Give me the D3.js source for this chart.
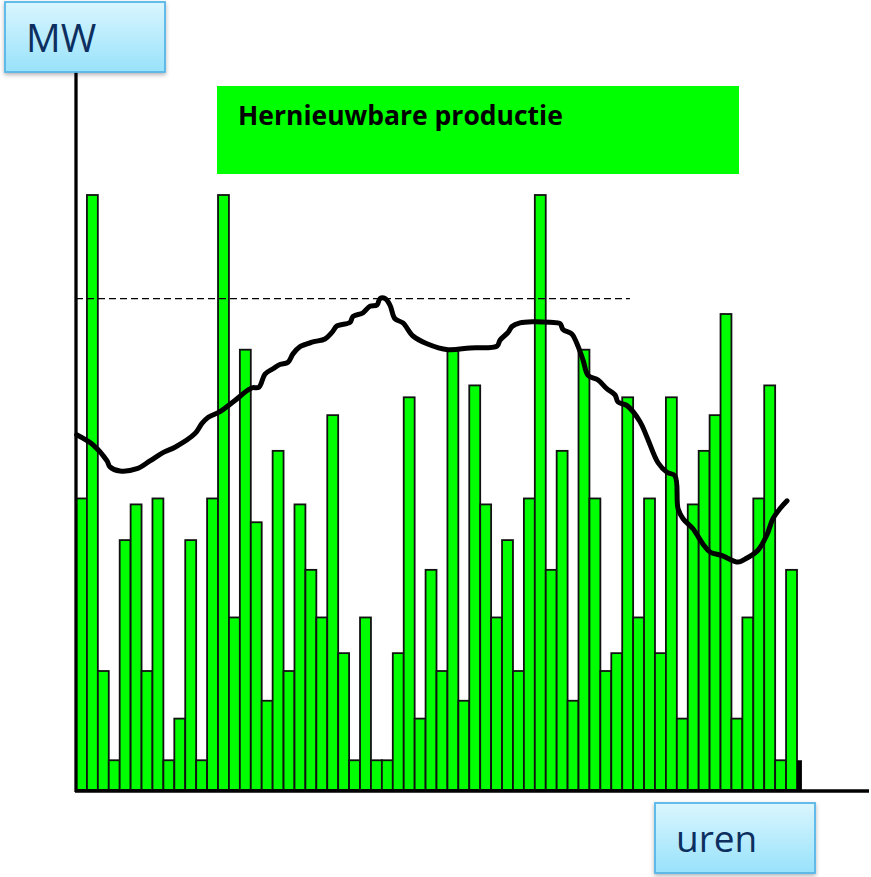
<!DOCTYPE html>
<html>
<head>
<meta charset="utf-8">
<script src="https://cdn.jsdelivr.net/npm/d3@7/dist/d3.min.js"></script>
<style>
  html, body { margin: 0; padding: 0; background: #ffffff; }
  svg { display: block; }
</style>
</head>
<body>
<svg id="chart" width="871" height="877"></svg>
<script>
// Hourly renewable production (MW), one bar per hour
const hours = d3.range(66);
const production = [
  49, 100, 20, 5, 42, 48, 20, 49, 5, 12, 42, 5, 49, 100, 29, 74, 45, 15, 57, 20,
  48, 37, 29, 63, 23, 5, 29, 5, 5, 23, 66, 12, 37, 20, 74, 15, 68, 48, 29, 42,
  20, 49, 100, 37, 57, 15, 74, 49, 20, 23, 66, 29, 49, 23, 66, 12, 48, 57, 63, 80,
  12, 29, 49, 68, 5, 37
];
// Partial bar at the end of the series
const tailValue = [5];

// Demand curve: position in hours and MW
const demandHours = [
  0.06, 1.56, 2.84, 3.11, 4.03, 5.58, 6.77, 7.96, 9.06, 10.89, 11.53, 12.08, 13.18,
  14.37, 15.65, 16.11, 16.75, 17.30, 18.03, 18.67, 19.41, 19.86, 20.51, 21.70, 22.79,
  23.43, 23.89, 25.08, 25.36, 26.27, 26.91, 27.55, 27.83, 28.29, 28.74, 29.20, 29.93,
  30.85, 32.13, 34.05, 36.07, 38.54, 38.81, 39.55, 39.91, 40.64, 41.83, 43.39, 44.31,
  44.58, 45.41, 45.86, 46.41, 46.87, 47.79, 48.61, 49.34, 49.62, 50.44, 51.63, 52.27,
  53.28, 54.10, 54.83, 55.11, 55.57, 56.48, 57.40, 58.04, 59.14, 60.60, 61.24, 62.43,
  63.25, 63.80, 64.45, 65.09
];
const demandMW = [
  59.7, 58.0, 55.3, 54.3, 53.6, 54.0, 55.3, 56.7, 57.6, 59.9, 61.6, 62.6, 63.6,
  65.2, 67.1, 67.6, 67.7, 69.9, 70.8, 71.5, 71.9, 73.3, 74.5, 75.3, 75.8,
  76.9, 78.0, 78.6, 79.6, 80.2, 81.3, 81.5, 82.6, 82.6, 81.5, 79.2, 78.5,
  76.3, 75.0, 74.0, 74.3, 74.6, 75.6, 76.9, 77.9, 78.5, 78.7, 78.6, 78.4,
  77.4, 76.6, 75.0, 72.3, 69.7, 68.9, 67.4, 66.4, 65.2, 64.6, 61.9, 59.3,
  55.0, 53.4, 52.8, 47.3, 45.6, 43.9, 41.3, 40.0, 39.4, 38.3, 38.8, 40.3,
  42.9, 45.6, 47.3, 48.6
];
// Peak level reference (dashed), spanning hours 0 to ~50.7
const peakLevel = [82.6];
const peakSpan = [0, 50.7];

const title = "Hernieuwbare productie";
const yLabel = "MW";
const xLabel = "uren";

const svg = d3.select("#chart");

const x0 = 76, x1 = 797, yBase = 790, yTop = 76;

const x = d3.scaleBand().domain(hours).range([x0, x1]).padding(0);
const xLin = d3.scaleLinear().domain([0, hours.length]).range([x0, x1]);
const y = d3.scaleLinear().domain([0, 120]).range([yBase, yTop]);

const defs = svg.append("defs");
const grad = defs.append("linearGradient")
  .attr("id", "boxGrad").attr("x1", 0).attr("y1", 0).attr("x2", 0).attr("y2", 1);
grad.append("stop").attr("offset", "0%").attr("stop-color", "#daf6fe");
grad.append("stop").attr("offset", "100%").attr("stop-color", "#98e2fb");
const shadow = defs.append("filter").attr("id", "boxShadow")
  .attr("x", "-20%").attr("y", "-20%").attr("width", "140%").attr("height", "150%");
shadow.append("feDropShadow").attr("dx", 0).attr("dy", 2).attr("stdDeviation", 2)
  .attr("flood-color", "#000").attr("flood-opacity", 0.3);

// Title banner
svg.append("rect")
  .attr("x", 217).attr("y", 86).attr("width", 522).attr("height", 88)
  .attr("fill", "#00ff00");
svg.append("text")
  .attr("x", 238).attr("y", 125)
  .attr("font-family", "'Open Sans', sans-serif")
  .attr("font-weight", 700).attr("font-size", 26.5)
  .attr("fill", "#000")
  .text(title);

// Bars
svg.append("g").selectAll("rect")
  .data(hours)
  .join("rect")
  .attr("x", d => x(d))
  .attr("y", d => y(production[d]))
  .attr("width", x.bandwidth())
  .attr("height", d => y(0) - y(production[d]))
  .attr("fill", "#00ff00")
  .attr("stroke", "#111")
  .attr("stroke-width", 1.8);

// End fragment
svg.append("rect")
  .attr("x", x1)
  .attr("y", y(tailValue[0]))
  .attr("width", x.bandwidth() * 0.45)
  .attr("height", y(0) - y(tailValue[0]))
  .attr("fill", "#000");

// Dashed peak reference
svg.append("line")
  .attr("x1", xLin(peakSpan[0])).attr("x2", xLin(peakSpan[1]))
  .attr("y1", y(peakLevel[0])).attr("y2", y(peakLevel[0]))
  .attr("stroke", "#000").attr("stroke-width", 1.2)
  .attr("stroke-dasharray", "7,4");

// Demand curve
const line = d3.line()
  .x((d, i) => xLin(demandHours[i]))
  .y(d => y(d))
  .curve(d3.curveCatmullRom.alpha(0.5));
svg.append("path")
  .attr("d", line(demandMW))
  .attr("fill", "none")
  .attr("stroke", "#000")
  .attr("stroke-width", 5)
  .attr("stroke-linejoin", "round")
  .attr("stroke-linecap", "round");

// Axes
svg.append("line")
  .attr("x1", x0).attr("x2", x0).attr("y1", 72).attr("y2", yBase + 2)
  .attr("stroke", "#000").attr("stroke-width", 3.3);
svg.append("line")
  .attr("x1", x0 - 1).attr("x2", 869).attr("y1", yBase + 1).attr("y2", yBase + 1)
  .attr("stroke", "#000").attr("stroke-width", 3.3);

// Axis label boxes
function labelBox(bx, by, w, h, txt, tx, ty, size) {
  svg.append("rect")
    .attr("x", bx).attr("y", by).attr("width", w).attr("height", h)
    .attr("fill", "url(#boxGrad)")
    .attr("stroke", "#55b5e8").attr("stroke-width", 1.8)
    .attr("filter", "url(#boxShadow)");
  svg.append("text")
    .attr("x", tx).attr("y", ty)
    .attr("font-family", "'Open Sans', sans-serif")
    .attr("font-size", size)
    .attr("fill", "#0c2f5f")
    .text(txt);
}
labelBox(5, 2, 160, 70, yLabel, 26, 52, 38.5);
labelBox(655, 803, 160, 70, xLabel, 676, 852, 37);
</script>
</body>
</html>
